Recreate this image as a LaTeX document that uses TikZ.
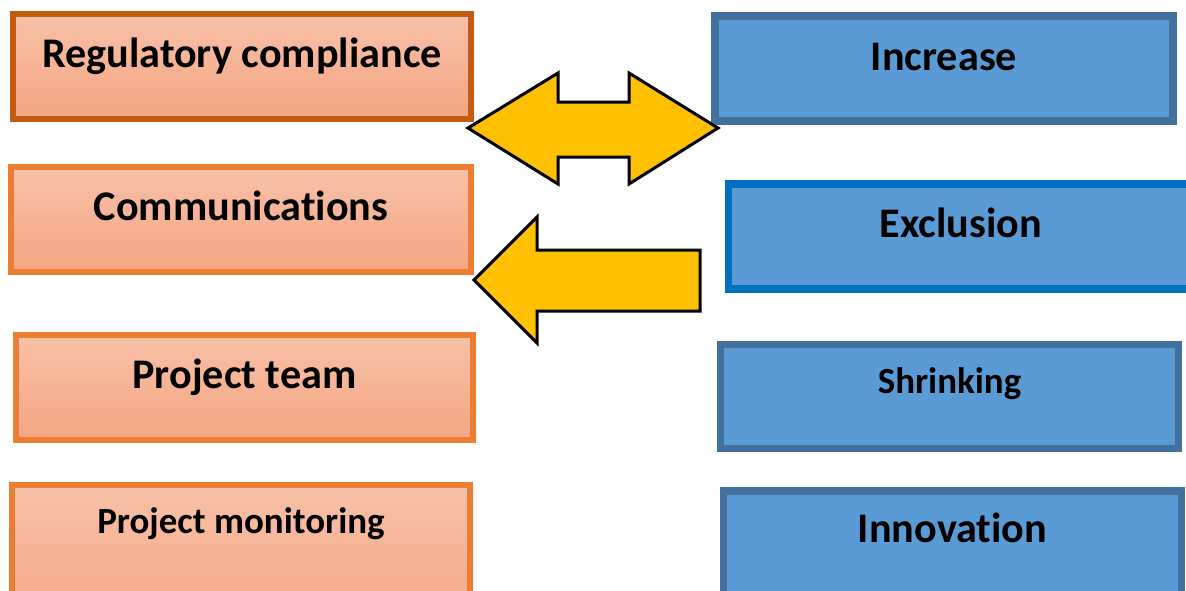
\documentclass[tikz,border=0pt]{standalone}
\usepackage{fontspec}
\setmainfont{Carlito}[Ligatures=NoCommon]

\definecolor{peachtop}{RGB}{248,193,168}
\definecolor{peachbot}{RGB}{244,165,130}
\definecolor{peachline}{RGB}{237,125,49}
\definecolor{rustline}{RGB}{197,90,17}
\definecolor{steelfill}{RGB}{91,155,213}
\definecolor{steelline}{RGB}{65,113,156}
\definecolor{brightline}{RGB}{0,112,192}
\definecolor{amber}{RGB}{255,192,0}

\begin{document}
\begin{tikzpicture}[x=0.01cm, y=-0.01cm,
    side/.style = {draw, line width=0.06cm, anchor=base, inner ysep=0pt,
        text height=0.53cm, text depth=0.52cm, minimum width=4.57cm,
        font=\bfseries\fontsize{12}{14}\selectfont},
    cause/.style = {side, draw=peachline, top color=peachtop, bottom color=peachbot},
    effect/.style = {side, draw=steelline, fill=steelfill, line width=0.075cm, minimum width=4.58cm},
    smalltext/.style = {font=\bfseries\fontsize{10.5}{12}\selectfont},
    block/.style = {draw=black, line width=0.03cm, fill=amber, line join=miter}]

    \useasboundingbox (0,0) rectangle (1186,590);
    \clip (0,0) rectangle (1186,590);

    % left column
    \node[cause, draw=rustline] (reg) at (242,67) {Regulatory compliance};
    \node[cause, minimum width=4.60cm] (comm) at (241,220) {Communications};
    \node[cause] (team) at (244.5,388) {Project team};
    \node[cause, smalltext, text height=0.48cm, text depth=1cm] (mon) at (241,533) {Project monitoring};

    % right column
    \node[effect, text height=0.54cm, text depth=0.51cm] (inc) at (944,70) {Increase};
    \node[effect, draw=brightline, minimum width=4.65cm] (exc) at (961,237) {Exclusion};
    \node[effect, smalltext, line width=0.065cm, text height=0.485cm, text depth=0.555cm] (shr) at (949.5,393) {Shrinking};
    \node[effect, text height=0.51cm, text depth=1cm] (inn) at (952.5,542) {Innovation};

    % block arrows between the columns
    \draw[block] (468,128) -- (558,73) -- (558,102) -- (629,102) -- (629,73)
        -- (718,128) -- (629,184) -- (629,157) -- (558,157) -- (558,184) -- cycle;
    \draw[block] (474,280) -- (537,217) -- (537,250) -- (700,250)
        -- (700,311) -- (537,311) -- (537,343) -- cycle;
\end{tikzpicture}
\end{document}
